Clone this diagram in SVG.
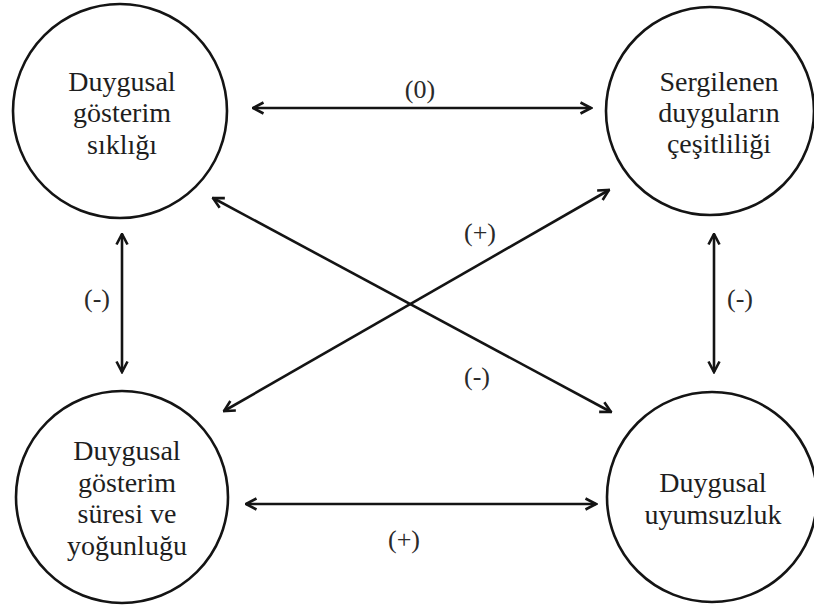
<svg xmlns="http://www.w3.org/2000/svg" width="814" height="607" viewBox="0 0 814 607">
  <style>
    .node circle { fill: #ffffff; stroke: #141414; stroke-width: 2.6; }
    .node text { font-size: 28px; fill: #1e1e1e; text-anchor: middle; }
    .edge { stroke: #141414; stroke-width: 2.6; fill: none; marker-start: url(#head); marker-end: url(#head); }
    .lbl { font-size: 26px; fill: #2a2a2a; text-anchor: middle; }
  </style>
  <defs>
    <marker id="head" viewBox="0 0 14 14" refX="12.5" refY="7" markerWidth="14" markerHeight="14" markerUnits="userSpaceOnUse" orient="auto-start-reverse">
      <path d="M2,1.5 L12.5,7 L2,12.5" fill="none" stroke="#141414" stroke-width="2.6" stroke-linejoin="miter"/>
    </marker>
  </defs>
  <rect width="814" height="607" fill="#ffffff"/>

  <g font-family="'Liberation Serif', 'DejaVu Serif', 'Times New Roman', serif">
    <g id="connectors">
      <line class="edge" x1="253" y1="108" x2="591" y2="108"/>
      <line class="edge" x1="246" y1="504" x2="596" y2="504"/>
      <line class="edge" x1="122" y1="234" x2="122" y2="372"/>
      <line class="edge" x1="714" y1="234" x2="714" y2="372"/>
      <line class="edge" x1="213" y1="198" x2="611" y2="412"/>
      <line class="edge" x1="224" y1="411" x2="609" y2="190"/>
      <text class="lbl" x="420" y="98">(0)</text>
      <text class="lbl" x="404" y="548">(+)</text>
      <text class="lbl" x="97" y="307">(-)</text>
      <text class="lbl" x="740" y="307">(-)</text>
      <text class="lbl" x="480" y="241">(+)</text>
      <text class="lbl" x="477" y="385">(-)</text>
    </g>

    <g id="node-siklik" class="node">
      <circle cx="120" cy="111" r="107"/>
      <text x="122" y="91">Duygusal</text>
      <text x="122" y="122">gösterim</text>
      <text x="122" y="154">sıklığı</text>
    </g>

    <g id="node-cesitlilik" class="node">
      <circle cx="710" cy="111" r="104"/>
      <text x="719" y="91">Sergilenen</text>
      <text x="719" y="122">duyguların</text>
      <text x="719" y="153">çeşitliliği</text>
    </g>

    <g id="node-sure" class="node">
      <circle cx="122" cy="497" r="106"/>
      <text x="127" y="460">Duygusal</text>
      <text x="127" y="492">gösterim</text>
      <text x="127" y="523">süresi ve</text>
      <text x="127" y="555">yoğunluğu</text>
    </g>

    <g id="node-uyumsuzluk" class="node">
      <circle cx="712" cy="497" r="105"/>
      <text x="713" y="492">Duygusal</text>
      <text x="713" y="524">uyumsuzluk</text>
    </g>
  </g>
</svg>
